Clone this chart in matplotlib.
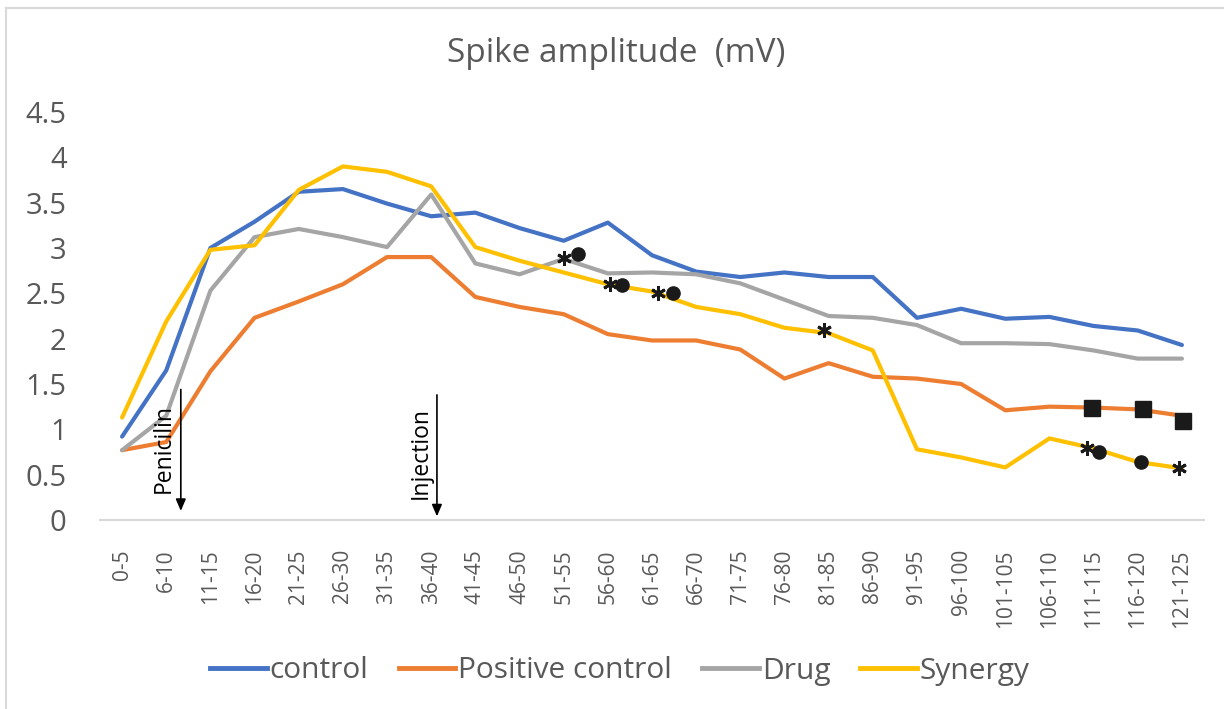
import matplotlib
matplotlib.use("Agg")
import matplotlib.pyplot as plt
from matplotlib.lines import Line2D

# ---------------- data ----------------
categories = ["0-5", "6-10", "11-15", "16-20", "21-25", "26-30", "31-35", "36-40",
              "41-45", "46-50", "51-55", "56-60", "61-65", "66-70", "71-75", "76-80",
              "81-85", "86-90", "91-95", "96-100", "101-105", "106-110", "111-115",
              "116-120", "121-125"]

control = [0.92, 1.65, 3.00, 3.29, 3.62, 3.65, 3.49, 3.35, 3.39, 3.22, 3.08, 3.28,
           2.92, 2.74, 2.68, 2.73, 2.68, 2.68, 2.23, 2.33, 2.22, 2.24, 2.14, 2.09, 1.93]
positive_control = [0.77, 0.86, 1.64, 2.23, 2.41, 2.60, 2.90, 2.90, 2.46, 2.35, 2.27,
                    2.05, 1.98, 1.98, 1.88, 1.56, 1.73, 1.58, 1.56, 1.50, 1.21, 1.25,
                    1.24, 1.22, 1.15]
drug = [0.77, 1.15, 2.53, 3.12, 3.21, 3.12, 3.01, 3.59, 2.83, 2.71, 2.88, 2.72, 2.73,
        2.71, 2.61, 2.43, 2.25, 2.23, 2.15, 1.95, 1.95, 1.94, 1.87, 1.78, 1.78]
synergy = [1.13, 2.19, 2.98, 3.03, 3.64, 3.90, 3.84, 3.68, 3.01, 2.86, 2.73, 2.60,
           2.52, 2.35, 2.27, 2.12, 2.06, 1.87, 0.78, 0.69, 0.58, 0.90, 0.79, 0.64, 0.57]

series_names = ["control", "Positive control", "Drug", "Synergy"]
y_ticks = [0, 0.5, 1, 1.5, 2, 2.5, 3, 3.5, 4, 4.5]
y_tick_labels = ["0", "0.5", "1", "1.5", "2", "2.5", "3", "3.5", "4", "4.5"]

# significance marks: (category, value)
asterisk_marks = [("51-55", 2.89), ("56-60", 2.60), ("61-65", 2.50),
                  ("81-85", 2.10), ("111-115", 0.79), ("121-125", 0.57)]
dot_marks = [("51-55", 2.93), ("56-60", 2.59), ("61-65", 2.50),
             ("111-115", 0.75), ("116-120", 0.64)]
square_marks = [("111-115", 1.24), ("116-120", 1.22), ("121-125", 1.09)]

title = "Spike amplitude  (mV)"

# ---------------- style ----------------
colors = ["#4472C4", "#ED7D31", "#A5A5A5", "#FFC000"]
gray_txt = "#595959"
FONT = ["Open Sans", "DejaVu Sans"]
plt.rcParams["font.family"] = FONT

W, H = 1224, 709
fig = plt.figure(figsize=(W / 100, H / 100), dpi=100)
ax = fig.add_axes([100 / W, (H - 520) / H, (1204 - 100) / W, (520 - 112) / H])

x = list(range(len(categories)))
for vals, c, name in zip([control, positive_control, drug, synergy], colors, series_names):
    ax.plot(x, vals, color=c, lw=3.0, solid_capstyle="round", solid_joinstyle="round",
            label=name, zorder=3)

idx = {c: i for i, c in enumerate(categories)}
ast_dx = [0.0, 0.06, 0.14, -0.10, -0.15, -0.07]
dot_dx = [0.33, 0.32, 0.47, 0.13, 0.07]
sq_dx = [-0.04, 0.12, 0.02]
for (cat, v), dx in zip(asterisk_marks, ast_dx):
    ax.plot(idx[cat] + dx, v, marker=(6, 2, 0), ms=10.5, mew=2.1, color="#1a1a1a",
            zorder=5, clip_on=False)
for (cat, v), dx in zip(dot_marks, dot_dx):
    ax.plot(idx[cat] + dx, v, marker="o", ms=9.5, color="#1a1a1a", zorder=5,
            clip_on=False)
for (cat, v), dx in zip(square_marks, sq_dx):
    ax.plot(idx[cat] + dx, v, marker="s", ms=11, color="#1a1a1a", zorder=5,
            clip_on=False)

# arrows and their labels
for xa, ya_top, ya_tip, xt, yt, txt in [(1.33, 1.44, 0.10, 0.95, 0.79, "Penicilin"),
                                         (7.13, 1.38, 0.04, 6.77, 0.74, "Injection")]:
    ax.annotate("", xy=(xa, ya_tip), xytext=(xa, ya_top),
                arrowprops=dict(arrowstyle="-|>,head_length=0.7,head_width=0.3",
                                color="black", lw=1.2, shrinkA=0, shrinkB=0),
                zorder=6)
    ax.text(xt, yt, txt, rotation=90, ha="center", va="center", fontsize=16.5,
            color="black", zorder=6)

ax.set_xlim(-0.5, len(categories) - 0.5)
ax.set_ylim(0, 4.5)
ax.set_xticks(x)
ax.set_xticklabels(categories, rotation=90, fontsize=15, color=gray_txt)
ax.set_yticks(y_ticks)
ax.set_yticklabels(y_tick_labels, fontsize=21, color=gray_txt)
ax.tick_params(axis="both", length=0)
ax.tick_params(axis="x", pad=21)
ax.tick_params(axis="y", pad=24)
for s in ["top", "right", "left"]:
    ax.spines[s].set_visible(False)
ax.spines["bottom"].set_color("#D9D9D9")
ax.spines["bottom"].set_linewidth(1.5)
ax.spines["bottom"].set_zorder(1)

fig.text(616 / W, 1 - 53 / H, title, ha="center", va="center", fontsize=24,
         color=gray_txt)

handles = [Line2D([0], [0], color=c, lw=3.5) for c in colors]
fig.legend(handles, series_names, loc="center", bbox_to_anchor=(620 / W, 1 - 671 / H),
           ncol=4, frameon=False, fontsize=21.5, labelcolor=gray_txt,
           handlelength=1.9, handletextpad=0.1, columnspacing=1.0)

# chart frame (light gray border, left and top visible)
fig.add_artist(Line2D([6 / W, 6 / W], [0, 1 - 8 / H], transform=fig.transFigure,
                      color="#D9D9D9", lw=1.5))
fig.add_artist(Line2D([6 / W, 1], [1 - 8 / H, 1 - 8 / H], transform=fig.transFigure,
                      color="#D9D9D9", lw=1.5))

fig.savefig("out.png", dpi=100, facecolor="white")
